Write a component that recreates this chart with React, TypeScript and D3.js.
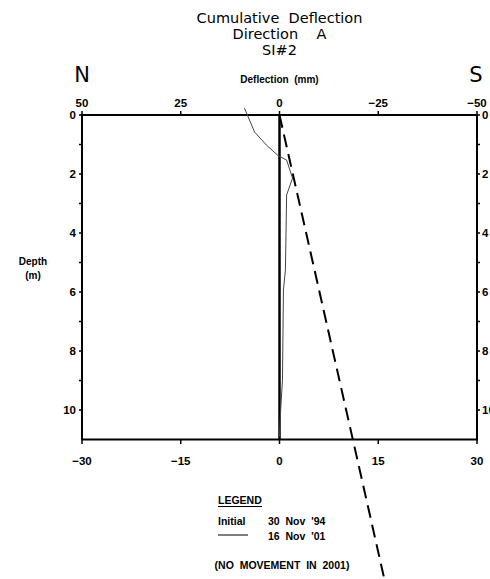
import React from "react";
import * as d3 from "d3";

const titleLines = ["Cumulative  Deflection", "Direction    A", "SI#2"];
const topTicks = [50, 25, 0, -25, -50];
const bottomTicks = [-30, -15, 0, 15, 30];
const depthTicks = [0, 2, 4, 6, 8, 10];
const minorDepthTicks = [1, 3, 5, 7, 9];

// 16 Nov '01 profile (deflection mm on top scale, depth m)
const profileDepth = [-0.24, 0.58, 1.02, 1.36, 1.53, 2.14, 2.71, 5.25, 5.93, 8.98, 10.1, 10.9];
const profileDefl = [8.9, 6.3, 3.3, 0.5, -1.8, -3.3, -1.8, -1.5, -1.0, -0.75, -0.25, 0];

// dashed reference line
const dashDepth = [0, 16];
const dashDefl = [0, -27];

// zero line
const zeroDepth = [0, 11];
const zeroDefl = [0, 0];

const legendItems = ["Initial", "16 Nov '01"];
const legendDates = ["30 Nov '94", "16 Nov '01"];

const fmt = (v: number) => (v < 0 ? "\u2212" + Math.abs(v) : String(v));

export default function App() {
  const W = 490, H = 579;
  const left = 82, right = 477, top = 115, bottom = 439.5;
  const xTop = d3.scaleLinear().domain([50, -50]).range([left, right]);
  const xBot = d3.scaleLinear().domain([-30, 30]).range([left, right]);
  const y = d3.scaleLinear().domain([0, 11]).range([top, bottom]);

  const line = d3
    .line<[number, number]>()
    .x((d) => xTop(d[0]))
    .y((d) => y(d[1]));

  const profile = line(profileDefl.map((d, i) => [d, profileDepth[i]] as [number, number]));
  const dashed = line(dashDefl.map((d, i) => [d, dashDepth[i]] as [number, number]));
  const zero = line(zeroDefl.map((d, i) => [d, zeroDepth[i]] as [number, number]));

  const cx = xTop(0);
  const bold = { fontFamily: "'Liberation Sans', Arial, sans-serif", fontWeight: 700 as const };
  const reg = { fontFamily: "'DejaVu Sans', sans-serif" };

  return (
    <svg
      width={W}
      height={H}
      style={{ position: "absolute", left: 0, top: 0, background: "#fff", overflow: "hidden" }}
    >
      <rect x={0} y={0} width={W} height={H} fill="#fff" />
      {titleLines.map((t, i) => (
        <text
          key={t}
          x={cx}
          y={23 + i * 16}
          textAnchor="middle"
          fontSize={14.5}
          style={{ ...reg, whiteSpace: "pre" }}
        >
          {t}
        </text>
      ))}
      <text x={left} y={82} textAnchor="middle" fontSize={21} style={reg}>N</text>
      <text x={right - 1} y={82} textAnchor="middle" fontSize={21} style={reg}>S</text>
      <text x={cx} y={83} textAnchor="middle" fontSize={10} style={{ ...bold, whiteSpace: "pre" }}>
        Deflection  (mm)
      </text>

      {/* top axis */}
      {topTicks.map((t) => (
        <g key={"t" + t}>
          <line x1={xTop(t)} x2={xTop(t)} y1={top - 4} y2={top} stroke="#000" strokeWidth={1.5} />
          <text x={xTop(t)} y={107} textAnchor="middle" fontSize={11.5} style={bold}>{fmt(t)}</text>
        </g>
      ))}
      {/* bottom axis */}
      {bottomTicks.map((t) => (
        <g key={"b" + t}>
          <line x1={xBot(t)} x2={xBot(t)} y1={bottom} y2={bottom + 4.5} stroke="#000" strokeWidth={1.5} />
          <text x={xBot(t)} y={465} textAnchor="middle" fontSize={11.5} style={bold}>{fmt(t)}</text>
        </g>
      ))}
      {/* left & right depth axes */}
      {depthTicks.map((t) => (
        <g key={"d" + t}>
          <line x1={left - 3} x2={left} y1={y(t)} y2={y(t)} stroke="#000" strokeWidth={1.5} />
          <text x={left - 6} y={y(t) + 4} textAnchor="end" fontSize={11.5} style={bold}>{t}</text>
          <line x1={right} x2={right + 3} y1={y(t)} y2={y(t)} stroke="#000" strokeWidth={1.5} />
          <text x={right + 5} y={y(t) + 4} textAnchor="start" fontSize={11.5} style={bold}>{t}</text>
        </g>
      ))}
      {minorDepthTicks.map((t) => (
        <g key={"m" + t}>
          <line x1={left - 3} x2={left} y1={y(t)} y2={y(t)} stroke="#000" strokeWidth={1.5} />
          <line x1={right} x2={right + 3} y1={y(t)} y2={y(t)} stroke="#000" strokeWidth={1.5} />
        </g>
      ))}
      <text x={33} y={265} textAnchor="middle" fontSize={10} style={bold}>Depth</text>
      <text x={33} y={279} textAnchor="middle" fontSize={10} style={bold}>(m)</text>

      {/* frame */}
      <rect x={left} y={top} width={right - left} height={bottom - top} fill="none" stroke="#000" strokeWidth={2} />

      {/* data */}
      <path d={zero ?? ""} fill="none" stroke="#000" strokeWidth={2.5} />
      <path d={profile ?? ""} fill="none" stroke="#444" strokeWidth={1} />
      <path d={dashed ?? ""} fill="none" stroke="#000" strokeWidth={2} strokeDasharray="13 7" />

      {/* legend */}
      <text x={218} y={504} fontSize={10.5} style={bold}>LEGEND</text>
      <line x1={218} x2={262} y1={506.5} y2={506.5} stroke="#000" strokeWidth={1} />
      <text x={218} y={525} fontSize={10.5} style={bold}>{legendItems[0]}</text>
      <line x1={218} x2={248} y1={535} y2={535} stroke="#000" strokeWidth={1} />
      {legendDates.map((d, i) => (
        <text key={d} x={268} y={525 + i * 15} fontSize={10.5} style={{ ...bold, whiteSpace: "pre" }}>
          {d.replace(" ", "  ").replace(" '", "  '")}
        </text>
      ))}
      <text x={282} y={569} textAnchor="middle" fontSize={10.5} style={{ ...bold, whiteSpace: "pre" }}>
        (NO  MOVEMENT  IN  2001)
      </text>
    </svg>
  );
}
